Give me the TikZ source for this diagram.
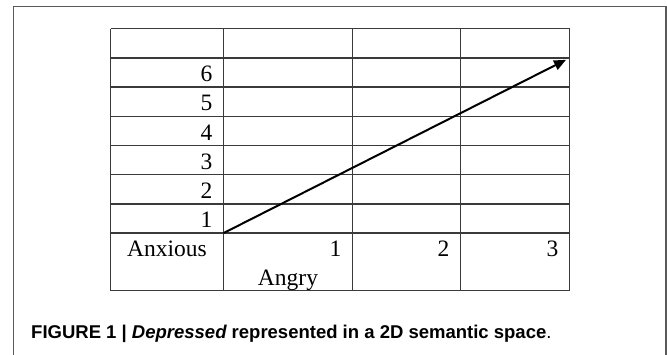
\documentclass[tikz,border=0pt]{standalone}
\usepackage{fontspec}
\setmainfont{Liberation Serif}
\newfontfamily\capfont{Liberation Sans}
\usetikzlibrary{arrows.meta}
\definecolor{framegray}{HTML}{5A5A5A}
\definecolor{gridgray}{HTML}{3A3A3A}
\tikzset{
  cell/.style={inner sep=0pt, font=\fontsize{23.5}{28}\selectfont},
  numr/.style={cell, anchor=base east},
  ctr/.style={cell, anchor=base},
  gridline/.style={draw=gridgray, line width=1.4pt},
  vec/.style={draw=black, line width=2pt, -{Triangle[length=12pt,width=10pt]}},
}
\begin{document}
\begin{tikzpicture}[x=1pt,y=-1pt]
\path[use as bounding box] (0,0) rectangle (667,354);
\clip (0,0) rectangle (667,354);
\fill[white] (0,0) rectangle (667,354);
% outer frame (open at bottom)
\draw[framegray, line width=1.3pt] (13.7,380) -- (13.7,6.7) -- (666,6.7) -- (666,380);
% table grid
\foreach \y in {28.7,57.9,87.1,116.3,145.5,174.7,203.9,233.1,290.7}
  \draw[gridline] (110.5,\y) -- (569.5,\y);
\foreach \x in {110.5,223.5,352.5,460.5,569.5}
  \draw[gridline] (\x,28.7) -- (\x,290.7);
% row labels
\node[numr] (r6) at (212.5,81.6) {6};
\node[numr] (r5) at (212.5,110.8) {5};
\node[numr] (r4) at (212.5,140.0) {4};
\node[numr] (r3) at (212.5,169.2) {3};
\node[numr] (r2) at (212.5,198.4) {2};
\node[numr] (r1) at (212.5,227.6) {1};
% bottom row
\node[ctr] (anx) at (167,256.8) {Anxious};
\node[numr] (c1) at (341.5,256.8) {1};
\node[numr] (c2) at (449.5,256.8) {2};
\node[numr] (c3) at (558.5,256.8) {3};
\node[ctr] (ang) at (288,285.1) {Angry};
% vector
\coordinate (orig) at (223.5,233.1);
\coordinate (tip) at (566,59.8);
\draw[vec] (orig) -- (tip);
% caption
\node[inner sep=0pt, anchor=base west, font=\capfont\fontsize{18.5}{22}\selectfont] (cap) at (31,338.5)
  {\bfseries FIGURE 1 | \itshape Depressed\upshape{} represented in a 2D semantic space\mdseries.};
\end{tikzpicture}
\end{document}
